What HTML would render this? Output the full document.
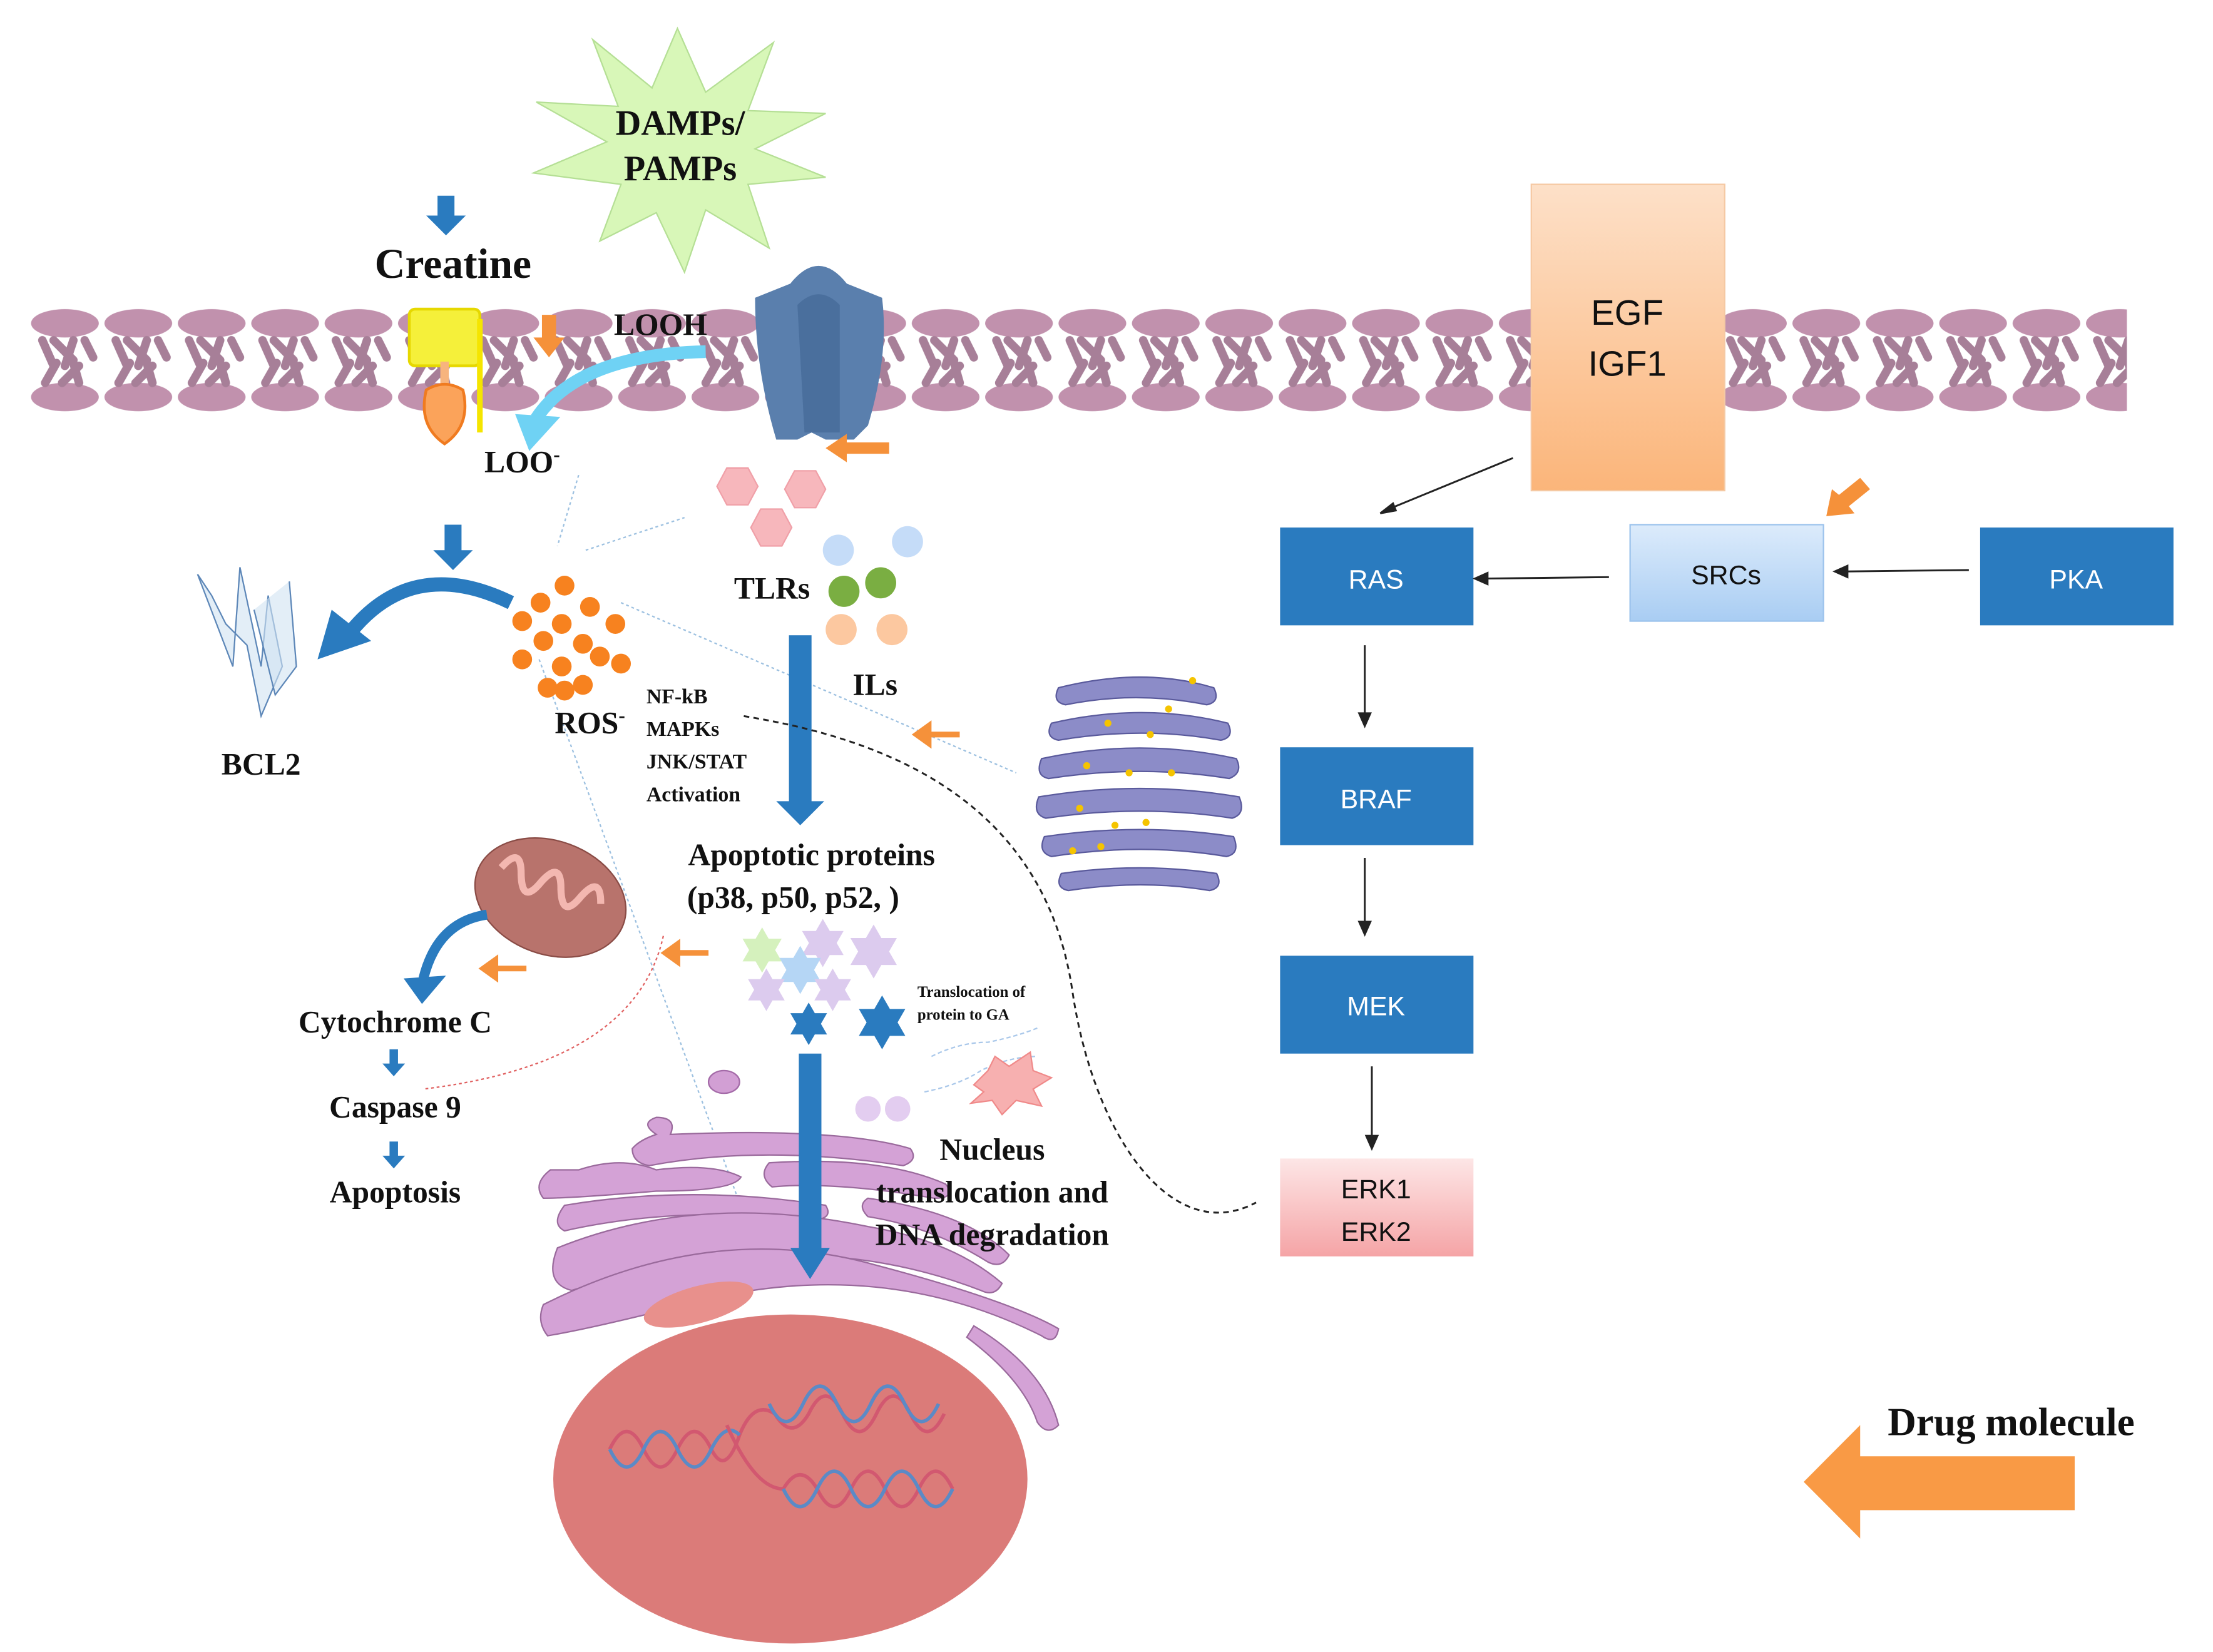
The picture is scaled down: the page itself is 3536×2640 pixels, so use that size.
<!DOCTYPE html>
<html><head><meta charset="utf-8"><style>
html,body{margin:0;padding:0;background:#fff}
svg{display:block}
text{font-family:"Liberation Serif",serif;font-weight:bold;fill:#111}
.s{font-family:"Liberation Sans",sans-serif;font-weight:normal}
</style></head><body>
<svg width="3536" height="2640" viewBox="0 0 1568 1165" preserveAspectRatio="none" xmlns="http://www.w3.org/2000/svg">
<defs>
<linearGradient id="egf" x1="0" y1="0" x2="0" y2="1"><stop offset="0" stop-color="#fde0c8"/><stop offset="1" stop-color="#fbb57a"/></linearGradient>
<linearGradient id="src" x1="0" y1="0" x2="0" y2="1"><stop offset="0" stop-color="#dcebfb"/><stop offset="1" stop-color="#a9cdf3"/></linearGradient>
<linearGradient id="erk" x1="0" y1="0" x2="0" y2="1"><stop offset="0" stop-color="#fde6e6"/><stop offset="1" stop-color="#f5a4a6"/></linearGradient>
<path id="hx" d="M0,-1 L0.866,0.5 L-0.866,0.5Z M0,1 L-0.866,-0.5 L0.866,-0.5Z"/>
<pattern id="mem" x="20" y="0" width="52" height="300" patternUnits="userSpaceOnUse">
<ellipse cx="26" cy="228" rx="24" ry="10" fill="#c191ad"/>
<ellipse cx="26" cy="280" rx="24" ry="10" fill="#c191ad"/>
<path d="M10,240 l8,18 M18,240 l14,14 M32,240 l-6,18 M40,240 l6,12" stroke="#a77f98" stroke-width="6" stroke-linecap="round"/>
<path d="M12,270 l8,-14 M24,270 l12,-12 M36,270 l-4,-14" stroke="#a77f98" stroke-width="6" stroke-linecap="round"/>
</pattern>
</defs>
<rect x="20" y="210" width="1065" height="85" fill="url(#mem)"/>
<rect x="1222" y="210" width="285" height="85" fill="url(#mem)"/>
<polygon fill="#d8f7b8" stroke="#b5df95" points="480,20 500,65 548,30 530,78 585,80 535,105 585,125 530,130 545,175 500,148 485,192 465,150 425,170 440,130 378,122 430,100 380,72 438,75 420,28 462,62" />
<text x="482" y="95" font-size="25" text-anchor="middle">DAMPs/</text>
<text x="482" y="127" font-size="25" text-anchor="middle">PAMPs</text>
<path d="M310,138h12v14h8l-14,14l-14,-14h8z" fill="#2a7bbf"/>
<text x="321" y="196" font-size="30" text-anchor="middle">Creatine</text>
<rect x="290" y="218" width="50" height="40" rx="4" fill="#f5f03a" stroke="#e6d800" stroke-width="2"/>
<path d="M340,225 v80" stroke="#f5e500" stroke-width="4"/>
<rect x="312" y="255" width="6" height="18" fill="#f7b47e"/>
<path d="M302,275 q13,-8 26,0 q6,25 -13,38 q-19,-13 -13,-38z" fill="#fba35a" stroke="#f07b20" stroke-width="2"/>
<path d="M384,222h10v16h6l-11,14l-11,-14h6z" fill="#f5913a"/>
<path d="M500,248 Q410,250 380,295" stroke="#6fd2f4" stroke-width="9" fill="none"/>
<path d="M365,292 l32,2 l-22,24z" fill="#6fd2f4"/>
<text x="468" y="236" font-size="22" text-anchor="middle">LOOH</text>
<text x="370" y="333" font-size="22" text-anchor="middle">LOO<tspan font-size="14" dy="-8">-</tspan></text>
<path d="M560,200 q20,-25 40,0 l25,10 q5,40 -10,90 l-10,10 h-20 l-10,-5 l-10,5 h-15 q-15,-50 -15,-100z" fill="#5a7fad"/>
<path d="M565,215 q15,-15 30,0 v90 h-25 z" fill="#4a6f9d"/>
<path d="M600,320h30v-8h-30v-6l-15,10l15,10z" fill="#f5913a"/>
<polygon points="508,343 515,330 530,330 537,343 530,356 515,356" fill="#f7b7bc" stroke="#f0a0a8"/>
<polygon points="556,345 563,332 578,332 585,345 578,358 563,358" fill="#f7b7bc" stroke="#f0a0a8"/>
<polygon points="532,372 539,359 554,359 561,372 554,385 539,385" fill="#f7b7bc" stroke="#f0a0a8"/>
<circle cx="594" cy="388" r="11" fill="#c5dcf8"/><circle cx="643" cy="382" r="11" fill="#c5dcf8"/>
<circle cx="598" cy="417" r="11" fill="#7aae42"/><circle cx="624" cy="411" r="11" fill="#7aae42"/>
<circle cx="596" cy="444" r="11" fill="#fcc8a0"/><circle cx="632" cy="444" r="11" fill="#fcc8a0"/>
<text x="547" y="422" font-size="22" text-anchor="middle">TLRs</text>
<text x="620" y="490" font-size="22" text-anchor="middle">ILs</text>
<g stroke="#9cc0e0" stroke-width="1" stroke-dasharray="2,2" fill="none">
<path d="M410,335 L395,385"/><path d="M415,388 L485,365"/><path d="M440,425 L720,545"/><path d="M382,465 L545,905"/>
</g>
<path d="M315,370h12v18h8l-14,14l-14,-14h8z" fill="#2a7bbf"/>
<path d="M362,425 Q290,390 245,450" stroke="#2a7bbf" stroke-width="10" fill="none"/>
<path d="M225,465 l10,-35 l28,22z" fill="#2a7bbf"/>
<g stroke="#5d87b8" stroke-width="1" fill="#d0e2f2" fill-opacity="0.6">
<path d="M140,405 L165,470 L170,400 L185,470 L190,420 L200,470 L185,505 L175,455 L160,440 L150,420Z"/>
<path d="M205,410 L210,470 L195,490 L180,430"/>
</g>
<text x="185" y="546" font-size="22" text-anchor="middle">BCL2</text>
<g fill="#f7821f">
<circle cx="400" cy="413" r="7"/><circle cx="383" cy="425" r="7"/><circle cx="418" cy="428" r="7"/><circle cx="370" cy="438" r="7"/><circle cx="398" cy="440" r="7"/><circle cx="436" cy="440" r="7"/><circle cx="385" cy="452" r="7"/><circle cx="413" cy="454" r="7"/><circle cx="370" cy="465" r="7"/><circle cx="398" cy="470" r="7"/><circle cx="425" cy="463" r="7"/><circle cx="440" cy="468" r="7"/><circle cx="388" cy="485" r="7"/><circle cx="413" cy="483" r="7"/><circle cx="400" cy="487" r="7"/>
</g>
<text x="418" y="517" font-size="22" text-anchor="middle">ROS<tspan font-size="14" dy="-8">-</tspan></text>
<rect x="559" y="448" width="16" height="120" fill="#2a7bbf"/>
<path d="M550,565h34l-17,17z" fill="#2a7bbf"/>
<text font-size="15"><tspan x="458" y="496">NF-kB</tspan><tspan x="458" y="519">MAPKs</tspan><tspan x="458" y="542">JNK/STAT</tspan><tspan x="458" y="565">Activation</tspan></text>
<path d="M680,518h-20v-8l-14,10l14,10v-8h20z" fill="#f5913a" transform="translate(0,-2)"/>
<path d="M527,505 C620,520 740,560 760,700 C775,800 830,880 890,848" stroke="#222" stroke-width="1.3" stroke-dasharray="4,3" fill="none"/>
<g fill="#8c8cc8" stroke="#5a5a9c" stroke-width="1">
<path d="M750,485 q60,-15 110,0 q5,10 -5,12 q-50,-10 -100,0 q-10,-2 -5,-12z"/>
<path d="M745,510 q65,-15 125,0 q5,10 -5,12 q-55,-10 -115,0 q-10,-2 -5,-12z"/>
<path d="M738,535 q70,-15 138,0 q5,10 -5,14 q-62,-10 -128,0 q-10,-2 -5,-14z"/>
<path d="M736,562 q72,-12 142,0 q5,12 -5,15 q-64,-10 -132,0 q-10,-3 -5,-15z"/>
<path d="M740,590 q68,-10 134,0 q5,12 -5,14 q-60,-10 -124,0 q-10,-3 -5,-14z"/>
<path d="M752,616 q56,-8 110,0 q5,10 -5,12 q-48,-8 -100,0 q-10,-2 -5,-12z"/>
</g>
<g fill="#f5c400"><circle cx="785" cy="510" r="2.5"/><circle cx="815" cy="518" r="2.5"/><circle cx="770" cy="540" r="2.5"/><circle cx="800" cy="545" r="2.5"/><circle cx="830" cy="545" r="2.5"/><circle cx="765" cy="570" r="2.5"/><circle cx="790" cy="582" r="2.5"/><circle cx="812" cy="580" r="2.5"/><circle cx="780" cy="597" r="2.5"/><circle cx="760" cy="600" r="2.5"/><circle cx="845" cy="480" r="2.5"/><circle cx="828" cy="500" r="2.5"/></g>
<text x="575" y="610" font-size="22" text-anchor="middle">Apoptotic proteins</text>
<text x="562" y="640" font-size="22" text-anchor="middle">(p38, p50, p52, )</text>
<ellipse cx="390" cy="633" rx="55" ry="40" transform="rotate(20 390 633)" fill="#b8736c" stroke="#8a4c46"/>
<path d="M350,625 q8,-20 15,0 q8,20 15,0 q8,-20 15,0 q8,20 15,0 q8,-20 15,0" stroke="#f3b7b0" stroke-width="5" fill="none" transform="rotate(20 390 633)"/>
<path d="M345,645 Q310,650 300,690" stroke="#2a7bbf" stroke-width="7" fill="none"/>
<path d="M286,690 l30,-2 l-17,20z" fill="#2a7bbf"/>
<path d="M373,683h-20v-8l-14,10l14,10v-8h20z" fill="#f5913a" transform="translate(0,-2)"/>
<path d="M502,670h-20v-8l-14,10l14,10v-8h20z" fill="#f5913a"/>
<path d="M470,660 Q450,750 300,768" stroke="#e06060" stroke-width="1" stroke-dasharray="2,2" fill="none"/>
<text x="280" y="728" font-size="22" text-anchor="middle">Cytochrome C</text>
<path d="M276,740h6v10h5l-8,9l-8,-9h5z" fill="#2a7bbf"/>
<text x="280" y="788" font-size="22" text-anchor="middle">Caspase 9</text>
<path d="M276,805h6v10h5l-8,9l-8,-9h5z" fill="#2a7bbf"/>
<text x="280" y="848" font-size="22" text-anchor="middle">Apoptosis</text>
<use href="#hx" transform="translate(540,670) scale(16)" fill="#d5f1bd"/>
<use href="#hx" transform="translate(583,665) scale(17)" fill="#dccbee"/>
<use href="#hx" transform="translate(619,671) scale(19)" fill="#dccbee"/>
<use href="#hx" transform="translate(567,684) scale(17)" fill="#b5d6f5"/>
<use href="#hx" transform="translate(543,698) scale(15)" fill="#dccbee"/>
<use href="#hx" transform="translate(590,698) scale(15)" fill="#dccbee"/>
<use href="#hx" transform="translate(573,722) scale(15)" fill="#2a7bbf"/>
<use href="#hx" transform="translate(625,721) scale(19)" fill="#2a7bbf"/>
<text font-size="11"><tspan x="650" y="703">Translocation of</tspan><tspan x="650" y="719">protein to GA</tspan></text>
<path d="M660,745 q20,-10 40,-10 q20,-4 35,-10 M655,770 q25,-5 40,-15 q20,-10 40,-10" stroke="#aac8ea" stroke-width="1" stroke-dasharray="3,2" fill="none"/>
<polygon fill="#f7b0b0" stroke="#f08a8a" points="690,765 700,755 705,745 715,752 730,742 732,755 745,760 732,768 738,780 720,776 710,786 703,776 688,778 697,770" />
<circle cx="615" cy="782" r="9" fill="#e3cdf0"/><circle cx="636" cy="782" r="9" fill="#e3cdf0"/>
<ellipse cx="513" cy="763" rx="11" ry="8" fill="#d29fd4" stroke="#a46aa8"/>
<g fill="#d4a2d6" stroke="#9a6a9c" stroke-width="1">
<path d="M465,800 q-12,-8 0,-12 q15,0 10,12 q120,-5 170,10 q6,8 -5,12 q-100,-15 -180,0 q-12,-2 -12,-12 q5,-6 17,-10z"/>
<path d="M410,825 q30,-10 55,0 q40,-5 60,5 q-5,10 -60,10 q-60,5 -80,5 q-8,-10 5,-20z"/>
<path d="M545,820 q80,-5 125,15 q8,10 -8,10 q-70,-12 -115,-8 q-10,-8 -2,-17z"/>
<path d="M400,850 q90,-15 185,0 q5,8 -5,10 q-100,-10 -180,8 q-10,-5 0,-18z"/>
<path d="M615,845 q70,10 100,40 q-5,10 -15,5 q-40,-25 -85,-32 q-8,-8 0,-13z"/>
<path d="M395,880 q100,-40 220,-15 q60,10 95,40 q-5,10 -15,5 q-130,-50 -290,0 q-20,-5 -10,-30z"/>
<path d="M385,920 q120,-60 235,-28 q95,25 130,45 q-2,12 -12,5 q-120,-60 -260,-20 q-60,15 -90,20 q-8,-10 -3,-22z"/>
<path d="M690,935 q50,30 60,70 q-8,8 -15,-2 q-10,-30 -50,-60z"/>
</g>
<ellipse cx="560" cy="1043" rx="168" ry="116" fill="#db7b79"/>
<ellipse cx="495" cy="920" rx="40" ry="13" fill="#e8908c" transform="rotate(-15 495 920)"/>
<g fill="none" stroke-width="2.5">
<path d="M432,1022 q12,-25 24,0 q12,25 24,0 q12,-25 24,0 q10,20 20,-10 q10,-25 25,-15 q12,20 24,0 q12,-25 24,0 q12,25 24,0 q12,-25 24,0 q12,25 24,0" stroke="#d25870"/>
<path d="M432,1022 q12,25 24,0 q12,-25 24,0 q12,25 24,0 q10,-20 20,-10" stroke="#5b8ac6"/>
<path d="M545,990 q12,25 24,0 q12,-25 24,0 q12,25 24,0 q12,-25 24,0 q12,25 24,0" stroke="#5b8ac6"/>
<path d="M515,1005 q20,45 40,45 q12,-20 24,0 q12,25 24,0 q12,-25 24,0 q12,25 24,0 q12,-25 24,0" stroke="#d25870"/>
<path d="M555,1050 q12,25 24,0 q12,-25 24,0 q12,25 24,0 q12,-25 24,0 q12,25 24,0" stroke="#5b8ac6"/>
</g>
<rect x="566" y="743" width="16" height="140" fill="#2a7bbf"/>
<path d="M560,880h28l-14,22z" fill="#2a7bbf"/>
<text x="703" y="818" font-size="22" text-anchor="middle">Nucleus</text>
<text x="703" y="848" font-size="22" text-anchor="middle">translocation and</text>
<text x="703" y="878" font-size="22" text-anchor="middle">DNA degradation</text>
<rect x="1085" y="130" width="137" height="216" fill="url(#egf)" stroke="#f5c9a3"/>
<text class="s" x="1153" y="229" font-size="25" text-anchor="middle">EGF</text>
<text class="s" x="1153" y="265" font-size="25" text-anchor="middle">IGF1</text>
<rect x="907" y="372" width="137" height="69" fill="#2a7bbf"/>
<text class="s" x="975" y="415" font-size="19" text-anchor="middle" style="fill:#fff">RAS</text>
<rect x="1155" y="370" width="137" height="68" fill="url(#src)" stroke="#9cc3ec"/>
<text class="s" x="1223" y="412" font-size="19" text-anchor="middle">SRCs</text>
<rect x="1403" y="372" width="137" height="69" fill="#2a7bbf"/>
<text class="s" x="1471" y="415" font-size="19" text-anchor="middle" style="fill:#fff">PKA</text>
<rect x="907" y="527" width="137" height="69" fill="#2a7bbf"/>
<text class="s" x="975" y="570" font-size="19" text-anchor="middle" style="fill:#fff">BRAF</text>
<rect x="907" y="674" width="137" height="69" fill="#2a7bbf"/>
<text class="s" x="975" y="716" font-size="19" text-anchor="middle" style="fill:#fff">MEK</text>
<rect x="907" y="817" width="137" height="69" fill="url(#erk)"/>
<text class="s" x="975" y="845" font-size="19" text-anchor="middle">ERK1</text>
<text class="s" x="975" y="875" font-size="19" text-anchor="middle">ERK2</text>
<g stroke="#222" stroke-width="1.3" fill="#222">
<line x1="1072" y1="323" x2="984" y2="359"/><path d="M978,362 l9,-7 l2,5z"/>
<line x1="1140" y1="407" x2="1052" y2="408"/><path d="M1045,408 l9,-4 v8z"/>
<line x1="1395" y1="402" x2="1307" y2="403"/><path d="M1300,403 l9,-4 v8z"/>
<line x1="967" y1="455" x2="967" y2="505"/><path d="M967,512 l-4,-9 h8z"/>
<line x1="967" y1="605" x2="967" y2="652"/><path d="M967,659 l-4,-9 h8z"/>
<line x1="972" y1="752" x2="972" y2="803"/><path d="M972,810 l-4,-9 h8z"/>
</g>
<path d="M1325,345 l-15,12 l4,5 l-20,2 l4,-19 l5,4 l15,-12z" fill="#f5913a"/>
<text x="1425" y="1012" font-size="28" text-anchor="middle">Drug molecule</text>
<path d="M1470,1027 v38 h-152 v20 l-40,-40 l40,-40 v22z" fill="#f99a45"/>
</svg>
</body></html>
